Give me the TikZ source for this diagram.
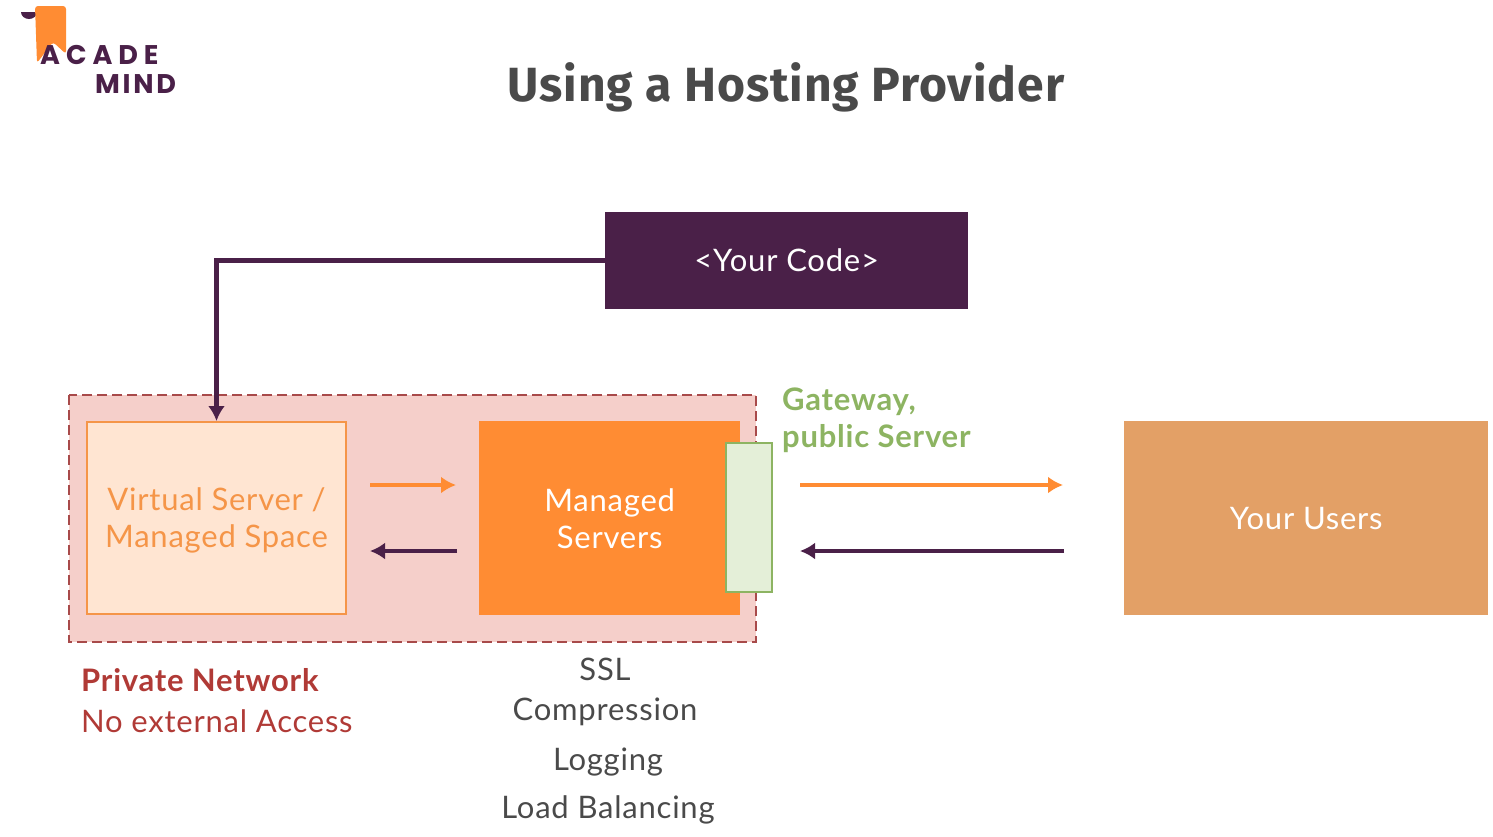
\documentclass[tikz,border=0pt]{standalone}
\usepackage{fontspec}
\setmainfont{Lato}[LetterSpace=2.5]
\newfontfamily\titlefont{Fira Sans}[LetterSpace=2]
\newfontfamily\logofont{Poppins}[LetterSpace=10]
\newfontfamily\logowidefont{Poppins}[LetterSpace=22]
\usetikzlibrary{arrows.meta}
\definecolor{plum}{HTML}{4A2048}
\definecolor{brightorange}{HTML}{FF8C33}
\definecolor{paleorange}{HTML}{FFE5D2}
\definecolor{softorange}{HTML}{F59548}
\definecolor{userorange}{HTML}{E3A066}
\definecolor{netpink}{HTML}{F5CFCA}
\definecolor{netred}{HTML}{B03A36}
\definecolor{netdash}{HTML}{A84A4A}
\definecolor{leafgreen}{HTML}{8DB462}
\definecolor{palegreen}{HTML}{E4EFD8}
\definecolor{textgrey}{HTML}{4A4A4A}
\newcommand{\tallstrut}{\rule{0pt}{27pt}}
\tikzset{
  box/.style={anchor=north west,inner sep=0pt,align=center,font=\fontsize{31}{37}\selectfont},
  plainlabel/.style={inner sep=0pt,text=textgrey,font=\fontsize{31}{37}\selectfont},
  logotext/.style={anchor=west,inner sep=0pt,text=plum},
  flowline/.style={line width=4.5pt,-{Latex[length=15pt,width=17pt]}},
}
\begin{document}
\begin{tikzpicture}[x=1pt,y=-1pt]
\useasboundingbox (0,0) rectangle (1493,836);

\fill[plum] (21,12) arc (180:0:8 and 7)--cycle;
\fill[brightorange,rounded corners=3pt] (35,6)--(66,6)--(66,54)--(53,42)--(37,63)--cycle;
\node[logotext,font=\logowidefont\bfseries\fontsize{27}{27}\selectfont] (acade) at (40,55){ACADE};
\node[logotext,font=\logofont\bfseries\fontsize{27}{27}\selectfont] (mind) at (95,84){MIND};

\node[inner sep=0pt,text=textgrey,font=\titlefont\bfseries\fontsize{48}{48}\selectfont] (title) at (786,87){Using a Hosting Provider};

\node[box,fill=plum,text=white,minimum width=363pt,minimum height=97pt] (code) at (605,212){<Your Code>};

\draw[netdash,fill=netpink,line width=2.5pt,dash pattern=on 10pt off 5pt] (69,395) rectangle (756,642);
\node[box,fill=paleorange,draw=softorange,line width=2pt,text=softorange,minimum width=259pt,minimum height=192pt] (space) at (86,421){\tallstrut Virtual Server /\\Managed Space};
\node[box,fill=brightorange,text=white,minimum width=261pt,minimum height=194pt] (managed) at (479,421){Managed\\Servers};
\node[box,fill=palegreen,draw=leafgreen,line width=2pt,minimum width=46pt,minimum height=149pt] (gateway) at (725,442){};
\node[box,fill=userorange,text=white,minimum width=364pt,minimum height=194pt] (users) at (1124,421){Your Users};

\node[anchor=north west,inner sep=0pt,align=left,text=leafgreen,font=\bfseries\fontsize{31}{37}\selectfont] (gatelabel) at (782,388){Gateway,\\public Server};
\node[anchor=west,inner sep=0pt,text=netred,font=\bfseries\fontsize{31}{37}\selectfont] (private) at (81,680){Private Network};
\node[anchor=west,inner sep=0pt,text=netred,font=\fontsize{31}{37}\selectfont] (noaccess) at (81,721){No external Access};

\node[plainlabel] (ssl) at (605,669){SSL};
\node[plainlabel] (compression) at (605,712){Compression};
\node[plainlabel] (logging) at (608,762){Logging};
\node[plainlabel] (balancing) at (608,810){Load Balancing};

\coordinate (a1) at (370,485);
\coordinate (a2) at (456,485);
\coordinate (b1) at (457,551);
\coordinate (b2) at (370,551);
\coordinate (c1) at (800,485);
\coordinate (c2) at (1063,485);
\coordinate (d1) at (1064,551);
\coordinate (d2) at (800,551);

\draw[flowline,plum] (code.west)-|(space.north);
\draw[flowline,brightorange] (a1)--(a2);
\draw[flowline,plum] (b1)--(b2);
\draw[flowline,brightorange] (c1)--(c2);
\draw[flowline,plum] (d1)--(d2);
\end{tikzpicture}
\end{document}
